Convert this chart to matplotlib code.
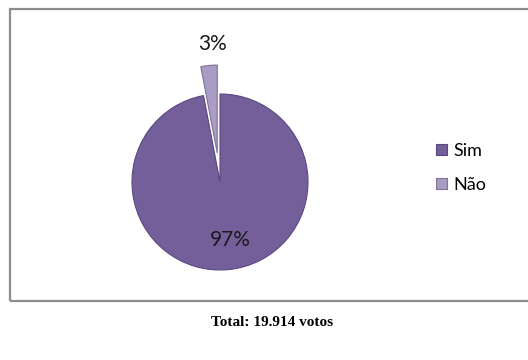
import numpy as np
import matplotlib
matplotlib.use("Agg")
import matplotlib.pyplot as plt
from matplotlib.patches import Rectangle

# ── Data ─────────────────────────────────────────────────────────────────────
labels = ["Sim", "Não"]
shares = [97, 3]
caption = "Total: 19.914 votos"

colors = ["#755F9B", "#A99CC5"]
edges = ["#5A4780", "#7E7398"]
explode = [0.0, 0.33]
label_dist = [0.66, 1.24]

W, H = 528, 360
fig = plt.figure(figsize=(W / 100, H / 100), dpi=100)

# outer chart frame (right side runs off the picture)
fig.patches.append(Rectangle((10 / W, 1 - 301 / H), 530 / W, 292 / H,
                             transform=fig.transFigure, fill=False,
                             edgecolor="#8C8C8C", linewidth=1.6))

# pie axes: centre (220, 182) px from top-left, radius 88 px
R = 88.0
S = 135.0
cx, cy = 220, H - 182
ax = fig.add_axes([(cx - S) / W, (cy - S) / H, 2 * S / W, 2 * S / H])

wedges, _ = ax.pie(shares, colors=colors, explode=explode,
                   startangle=90, counterclock=False, radius=1.0,
                   wedgeprops=dict(linewidth=0.8))
# pie() resets the limits, so put them back afterwards
lim = S / R
ax.set_xlim(-lim, lim)
ax.set_ylim(-lim, lim)
ax.set_aspect("equal")
ax.axis("off")

for w, ec in zip(wedges, edges):
    w.set_edgecolor(ec)
    w.set_clip_on(False)

for w, v, d, e in zip(wedges, shares, label_dist, explode):
    mid = np.deg2rad((w.theta1 + w.theta2) / 2)
    r = d + e
    ax.text(r * np.cos(mid) + 0.06, r * np.sin(mid), f"{v}%",
            ha="center", va="center", fontsize=15, family="Lato",
            color="#1a1a1a")

fig.legend(wedges, labels, loc="center left",
           bbox_to_anchor=(436 / W, 1 - 168 / H), frameon=False,
           prop=dict(family="Lato", size=13), handlelength=0.6,
           handleheight=0.6, handletextpad=0.35, labelspacing=1.0,
           borderaxespad=0, borderpad=0)

fig.text(272 / W, 1 - 323 / H, caption, ha="center", va="center",
         fontsize=11, fontweight="bold", family="Liberation Serif")

fig.savefig("out.png", dpi=100)
